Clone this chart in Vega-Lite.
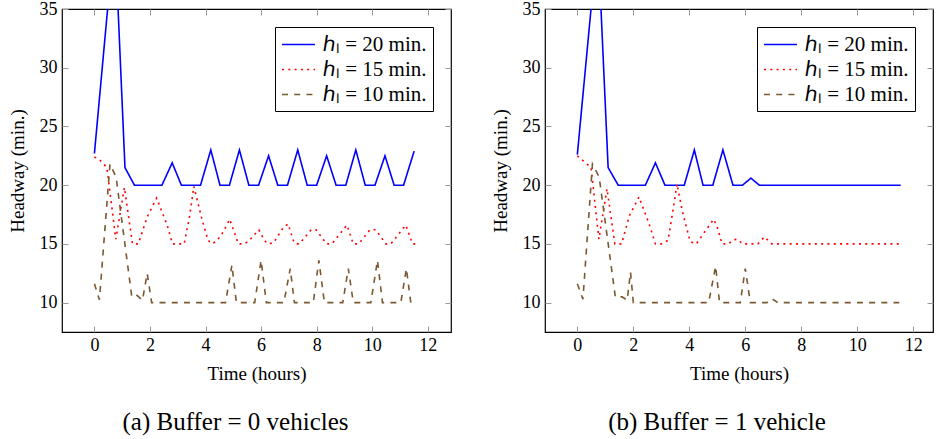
{
  "$schema": "https://vega.github.io/schema/vega-lite/v6.json",
  "padding": {"left": 7, "top": -1, "right": 0, "bottom": 0},
  "spacing": 37,
  "config": {
    "font": "Liberation Serif",
    "view": {"stroke": "black", "strokeWidth": 1.2},
    "axis": {
      "grid": false,
      "domain": false,
      "tickColor": "#999999",
      "tickWidth": 1,
      "tickSize": -6,
      "labelFont": "Liberation Serif",
      "labelFontSize": 18,
      "labelColor": "black",
      "titleFont": "Liberation Serif",
      "titleFontSize": 19,
      "titleFontWeight": "normal",
      "titleColor": "black"
    },
    "legend": {
      "labelFont": "Liberation Serif",
      "labelFontSize": 21,
      "labelColor": "black",
      "title": null,
      "orient": "top-right",
      "offset": 18,
      "symbolType": "M-1,0H2.14",
      "symbolSize": 441,
      "symbolStrokeWidth": 1.6,
      "labelOffset": 19,
      "rowPadding": 3,
      "padding": 6,
      "strokeColor": "black",
      "fillColor": "white",
      "cornerRadius": 0
    }
  },
  "datasets": {
    "buf0": [
      {"t": 0, "h": 22.7, "s": "ℎₗ = 20 min."},
      {"t": 0.73, "h": 41.6, "s": "ℎₗ = 20 min."},
      {"t": 1.1, "h": 21.5, "s": "ℎₗ = 20 min."},
      {"t": 1.44, "h": 20, "s": "ℎₗ = 20 min."},
      {"t": 2.43, "h": 20, "s": "ℎₗ = 20 min."},
      {"t": 2.8, "h": 21.9, "s": "ℎₗ = 20 min."},
      {"t": 3.13, "h": 20, "s": "ℎₗ = 20 min."},
      {"t": 3.82, "h": 20, "s": "ℎₗ = 20 min."},
      {"t": 4.19, "h": 23, "s": "ℎₗ = 20 min."},
      {"t": 4.52, "h": 20, "s": "ℎₗ = 20 min."},
      {"t": 4.86, "h": 20, "s": "ℎₗ = 20 min."},
      {"t": 5.22, "h": 23, "s": "ℎₗ = 20 min."},
      {"t": 5.56, "h": 20, "s": "ℎₗ = 20 min."},
      {"t": 5.91, "h": 20, "s": "ℎₗ = 20 min."},
      {"t": 6.27, "h": 22.5, "s": "ℎₗ = 20 min."},
      {"t": 6.6, "h": 20, "s": "ℎₗ = 20 min."},
      {"t": 6.95, "h": 20, "s": "ℎₗ = 20 min."},
      {"t": 7.32, "h": 23, "s": "ℎₗ = 20 min."},
      {"t": 7.66, "h": 20, "s": "ℎₗ = 20 min."},
      {"t": 8.0, "h": 20, "s": "ℎₗ = 20 min."},
      {"t": 8.36, "h": 22.5, "s": "ℎₗ = 20 min."},
      {"t": 8.7, "h": 20, "s": "ℎₗ = 20 min."},
      {"t": 9.05, "h": 20, "s": "ℎₗ = 20 min."},
      {"t": 9.41, "h": 23, "s": "ℎₗ = 20 min."},
      {"t": 9.75, "h": 20, "s": "ℎₗ = 20 min."},
      {"t": 10.1, "h": 20, "s": "ℎₗ = 20 min."},
      {"t": 10.46, "h": 22.5, "s": "ℎₗ = 20 min."},
      {"t": 10.79, "h": 20, "s": "ℎₗ = 20 min."},
      {"t": 11.13, "h": 20, "s": "ℎₗ = 20 min."},
      {"t": 11.51, "h": 22.9, "s": "ℎₗ = 20 min."},

      {"t": 0, "h": 22.4, "s": "ℎₗ = 15 min."},
      {"t": 0.17, "h": 22.2, "s": "ℎₗ = 15 min."},
      {"t": 0.45, "h": 21.5, "s": "ℎₗ = 15 min."},
      {"t": 0.77, "h": 15.4, "s": "ℎₗ = 15 min."},
      {"t": 1.08, "h": 19.8, "s": "ℎₗ = 15 min."},
      {"t": 1.37, "h": 15, "s": "ℎₗ = 15 min."},
      {"t": 1.58, "h": 15, "s": "ℎₗ = 15 min."},
      {"t": 1.9, "h": 17.3, "s": "ℎₗ = 15 min."},
      {"t": 2.24, "h": 18.9, "s": "ℎₗ = 15 min."},
      {"t": 2.62, "h": 16.6, "s": "ℎₗ = 15 min."},
      {"t": 2.81, "h": 15, "s": "ℎₗ = 15 min."},
      {"t": 3.23, "h": 15, "s": "ℎₗ = 15 min."},
      {"t": 3.43, "h": 17.4, "s": "ℎₗ = 15 min."},
      {"t": 3.58, "h": 19.9, "s": "ℎₗ = 15 min."},
      {"t": 3.85, "h": 17.3, "s": "ℎₗ = 15 min."},
      {"t": 4.09, "h": 15.3, "s": "ℎₗ = 15 min."},
      {"t": 4.24, "h": 15, "s": "ℎₗ = 15 min."},
      {"t": 4.42, "h": 15.3, "s": "ℎₗ = 15 min."},
      {"t": 4.63, "h": 16.0, "s": "ℎₗ = 15 min."},
      {"t": 4.87, "h": 17.1, "s": "ℎₗ = 15 min."},
      {"t": 5.05, "h": 15.9, "s": "ℎₗ = 15 min."},
      {"t": 5.18, "h": 15, "s": "ℎₗ = 15 min."},
      {"t": 5.4, "h": 15, "s": "ℎₗ = 15 min."},
      {"t": 5.58, "h": 15.3, "s": "ℎₗ = 15 min."},
      {"t": 5.92, "h": 16.2, "s": "ℎₗ = 15 min."},
      {"t": 6.12, "h": 15.3, "s": "ℎₗ = 15 min."},
      {"t": 6.24, "h": 15, "s": "ℎₗ = 15 min."},
      {"t": 6.45, "h": 15.1, "s": "ℎₗ = 15 min."},
      {"t": 6.8, "h": 16.4, "s": "ℎₗ = 15 min."},
      {"t": 6.97, "h": 16.7, "s": "ℎₗ = 15 min."},
      {"t": 7.16, "h": 15.3, "s": "ℎₗ = 15 min."},
      {"t": 7.25, "h": 15, "s": "ℎₗ = 15 min."},
      {"t": 7.38, "h": 15, "s": "ℎₗ = 15 min."},
      {"t": 7.8, "h": 16.2, "s": "ℎₗ = 15 min."},
      {"t": 7.98, "h": 16.2, "s": "ℎₗ = 15 min."},
      {"t": 8.36, "h": 15, "s": "ℎₗ = 15 min."},
      {"t": 8.55, "h": 15, "s": "ℎₗ = 15 min."},
      {"t": 9.09, "h": 16.6, "s": "ℎₗ = 15 min."},
      {"t": 9.32, "h": 15, "s": "ℎₗ = 15 min."},
      {"t": 9.51, "h": 15, "s": "ℎₗ = 15 min."},
      {"t": 9.92, "h": 16.2, "s": "ℎₗ = 15 min."},
      {"t": 10.13, "h": 16.2, "s": "ℎₗ = 15 min."},
      {"t": 10.49, "h": 15, "s": "ℎₗ = 15 min."},
      {"t": 10.67, "h": 15, "s": "ℎₗ = 15 min."},
      {"t": 11.21, "h": 16.6, "s": "ℎₗ = 15 min."},
      {"t": 11.45, "h": 15, "s": "ℎₗ = 15 min."},
      {"t": 11.65, "h": 15, "s": "ℎₗ = 15 min."},

      {"t": 0, "h": 11.6, "s": "ℎₗ = 10 min."},
      {"t": 0.18, "h": 10.25, "s": "ℎₗ = 10 min."},
      {"t": 0.56, "h": 21.8, "s": "ℎₗ = 10 min."},
      {"t": 0.78, "h": 20.7, "s": "ℎₗ = 10 min."},
      {"t": 1.34, "h": 10.6, "s": "ℎₗ = 10 min."},
      {"t": 1.45, "h": 10.8, "s": "ℎₗ = 10 min."},
      {"t": 1.73, "h": 10.2, "s": "ℎₗ = 10 min."},
      {"t": 1.9, "h": 12.5, "s": "ℎₗ = 10 min."},
      {"t": 2.06, "h": 10, "s": "ℎₗ = 10 min."},
      {"t": 4.72, "h": 10, "s": "ℎₗ = 10 min."},
      {"t": 4.95, "h": 13.2, "s": "ℎₗ = 10 min."},
      {"t": 5.11, "h": 10, "s": "ℎₗ = 10 min."},
      {"t": 5.77, "h": 10, "s": "ℎₗ = 10 min."},
      {"t": 6.0, "h": 13.6, "s": "ℎₗ = 10 min."},
      {"t": 6.19, "h": 10, "s": "ℎₗ = 10 min."},
      {"t": 6.82, "h": 10, "s": "ℎₗ = 10 min."},
      {"t": 7.05, "h": 12.9, "s": "ℎₗ = 10 min."},
      {"t": 7.2, "h": 10, "s": "ℎₗ = 10 min."},
      {"t": 7.88, "h": 10, "s": "ℎₗ = 10 min."},
      {"t": 8.08, "h": 13.6, "s": "ℎₗ = 10 min."},
      {"t": 8.28, "h": 10, "s": "ℎₗ = 10 min."},
      {"t": 8.94, "h": 10, "s": "ℎₗ = 10 min."},
      {"t": 9.14, "h": 12.9, "s": "ℎₗ = 10 min."},
      {"t": 9.32, "h": 10, "s": "ℎₗ = 10 min."},
      {"t": 9.95, "h": 10, "s": "ℎₗ = 10 min."},
      {"t": 10.19, "h": 13.6, "s": "ℎₗ = 10 min."},
      {"t": 10.37, "h": 10, "s": "ℎₗ = 10 min."},
      {"t": 11.03, "h": 10, "s": "ℎₗ = 10 min."},
      {"t": 11.23, "h": 12.9, "s": "ℎₗ = 10 min."},
      {"t": 11.39, "h": 10, "s": "ℎₗ = 10 min."},
      {"t": 11.5, "h": 10, "s": "ℎₗ = 10 min."}
    ],
    "buf1": [
      {"t": 0, "h": 22.6, "s": "ℎₗ = 20 min."},
      {"t": 0.73, "h": 41.1, "s": "ℎₗ = 20 min."},
      {"t": 1.1, "h": 21.5, "s": "ℎₗ = 20 min."},
      {"t": 1.46, "h": 20, "s": "ℎₗ = 20 min."},
      {"t": 2.43, "h": 20, "s": "ℎₗ = 20 min."},
      {"t": 2.79, "h": 21.9, "s": "ℎₗ = 20 min."},
      {"t": 3.13, "h": 20, "s": "ℎₗ = 20 min."},
      {"t": 3.82, "h": 20, "s": "ℎₗ = 20 min."},
      {"t": 4.18, "h": 23, "s": "ℎₗ = 20 min."},
      {"t": 4.49, "h": 20, "s": "ℎₗ = 20 min."},
      {"t": 4.84, "h": 20, "s": "ℎₗ = 20 min."},
      {"t": 5.2, "h": 23, "s": "ℎₗ = 20 min."},
      {"t": 5.56, "h": 20, "s": "ℎₗ = 20 min."},
      {"t": 5.9, "h": 20, "s": "ℎₗ = 20 min."},
      {"t": 6.2, "h": 20.6, "s": "ℎₗ = 20 min."},
      {"t": 6.5, "h": 20, "s": "ℎₗ = 20 min."},
      {"t": 11.55, "h": 20, "s": "ℎₗ = 20 min."},

      {"t": 0, "h": 22.5, "s": "ℎₗ = 15 min."},
      {"t": 0.15, "h": 22.2, "s": "ℎₗ = 15 min."},
      {"t": 0.49, "h": 21.5, "s": "ℎₗ = 15 min."},
      {"t": 0.77, "h": 15.4, "s": "ℎₗ = 15 min."},
      {"t": 1.06, "h": 19.7, "s": "ℎₗ = 15 min."},
      {"t": 1.34, "h": 15, "s": "ℎₗ = 15 min."},
      {"t": 1.58, "h": 15, "s": "ℎₗ = 15 min."},
      {"t": 1.86, "h": 17.4, "s": "ℎₗ = 15 min."},
      {"t": 2.2, "h": 19.0, "s": "ℎₗ = 15 min."},
      {"t": 2.55, "h": 16.8, "s": "ℎₗ = 15 min."},
      {"t": 2.79, "h": 15, "s": "ℎₗ = 15 min."},
      {"t": 3.0, "h": 15, "s": "ℎₗ = 15 min."},
      {"t": 3.24, "h": 15.3, "s": "ℎₗ = 15 min."},
      {"t": 3.44, "h": 18.2, "s": "ℎₗ = 15 min."},
      {"t": 3.56, "h": 20.1, "s": "ℎₗ = 15 min."},
      {"t": 3.75, "h": 17.8, "s": "ℎₗ = 15 min."},
      {"t": 4.03, "h": 15.2, "s": "ℎₗ = 15 min."},
      {"t": 4.25, "h": 15, "s": "ℎₗ = 15 min."},
      {"t": 4.57, "h": 16.1, "s": "ℎₗ = 15 min."},
      {"t": 4.87, "h": 17.1, "s": "ℎₗ = 15 min."},
      {"t": 4.99, "h": 16.5, "s": "ℎₗ = 15 min."},
      {"t": 5.17, "h": 15, "s": "ℎₗ = 15 min."},
      {"t": 5.4, "h": 15, "s": "ℎₗ = 15 min."},
      {"t": 5.57, "h": 15.35, "s": "ℎₗ = 15 min."},
      {"t": 5.72, "h": 15.4, "s": "ℎₗ = 15 min."},
      {"t": 5.9, "h": 15, "s": "ℎₗ = 15 min."},
      {"t": 6.45, "h": 15, "s": "ℎₗ = 15 min."},
      {"t": 6.68, "h": 15.6, "s": "ℎₗ = 15 min."},
      {"t": 6.95, "h": 15, "s": "ℎₗ = 15 min."},
      {"t": 11.5, "h": 15, "s": "ℎₗ = 15 min."},

      {"t": 0, "h": 11.6, "s": "ℎₗ = 10 min."},
      {"t": 0.2, "h": 10.3, "s": "ℎₗ = 10 min."},
      {"t": 0.54, "h": 21.8, "s": "ℎₗ = 10 min."},
      {"t": 0.78, "h": 20.7, "s": "ℎₗ = 10 min."},
      {"t": 1.36, "h": 10.45, "s": "ℎₗ = 10 min."},
      {"t": 1.6, "h": 10.5, "s": "ℎₗ = 10 min."},
      {"t": 1.78, "h": 10.2, "s": "ℎₗ = 10 min."},
      {"t": 1.9, "h": 12.6, "s": "ℎₗ = 10 min."},
      {"t": 2.0, "h": 10, "s": "ℎₗ = 10 min."},
      {"t": 4.69, "h": 10, "s": "ℎₗ = 10 min."},
      {"t": 4.94, "h": 13.1, "s": "ℎₗ = 10 min."},
      {"t": 5.08, "h": 10, "s": "ℎₗ = 10 min."},
      {"t": 5.82, "h": 10, "s": "ℎₗ = 10 min."},
      {"t": 6.0, "h": 12.9, "s": "ℎₗ = 10 min."},
      {"t": 6.18, "h": 10, "s": "ℎₗ = 10 min."},
      {"t": 6.77, "h": 10, "s": "ℎₗ = 10 min."},
      {"t": 6.95, "h": 10.35, "s": "ℎₗ = 10 min."},
      {"t": 7.16, "h": 10, "s": "ℎₗ = 10 min."},
      {"t": 11.5, "h": 10, "s": "ℎₗ = 10 min."}
    ]
  },
  "hconcat": [
    {
      "width": 389,
      "height": 323,
      "data": {"name": "buf0"},
      "title": {"text": "(a) Buffer = 0 vehicles", "orient": "bottom", "anchor": "middle", "frame": "group", "dx": -21, "offset": 27, "fontSize": 25, "fontWeight": "normal", "font": "Liberation Serif", "color": "black"},
      "layer": [
        {
          "mark": {"type": "line", "clip": true, "strokeWidth": 1.6, "strokeCap": "butt"},
          "encoding": {
            "x": {"field": "t", "type": "quantitative", "scale": {"domain": [-1.167, 12.837], "nice": false, "zero": false},
                  "axis": {"title": "Time (hours)", "values": [0, 2, 4, 6, 8, 10, 12], "labelPadding": 10, "titlePadding": 10}},
            "y": {"field": "h", "type": "quantitative", "scale": {"domain": [7.5, 35], "nice": false, "zero": false},
                  "axis": {"title": "Headway (min.)", "values": [10, 15, 20, 25, 30, 35], "labelPadding": 11, "titlePadding": 12}},
            "color": {"field": "s", "type": "nominal",
                      "scale": {"domain": ["ℎₗ = 20 min.", "ℎₗ = 15 min.", "ℎₗ = 10 min."], "range": ["#0000ff", "#ff0000", "#7a5830"]}},
            "strokeDash": {"field": "s", "type": "nominal",
                      "scale": {"domain": ["ℎₗ = 20 min.", "ℎₗ = 15 min.", "ℎₗ = 10 min."], "range": [[1, 0], [2, 4.3], [6, 6.2]]}}
          }
        },
        {
          "mark": {"type": "line", "opacity": 0, "clip": true},
          "encoding": {
            "x": {"field": "t", "type": "quantitative", "axis": {"orient": "top", "labels": false, "title": null, "values": [0, 2, 4, 6, 8, 10, 12]}},
            "y": {"field": "h", "type": "quantitative", "axis": {"orient": "right", "labels": false, "title": null, "values": [10, 15, 20, 25, 30, 35]}},
            "detail": {"field": "s"}
          }
        }
      ],
      "resolve": {"axis": {"x": "independent", "y": "independent"}}
    },
    {
      "width": 388,
      "height": 323,
      "data": {"name": "buf1"},
      "title": {"text": "(b) Buffer = 1 vehicle", "orient": "bottom", "anchor": "middle", "frame": "group", "dx": -22, "offset": 27, "fontSize": 25, "fontWeight": "normal", "font": "Liberation Serif", "color": "black"},
      "layer": [
        {
          "mark": {"type": "line", "clip": true, "strokeWidth": 1.6, "strokeCap": "butt"},
          "encoding": {
            "x": {"field": "t", "type": "quantitative", "scale": {"domain": [-1.155, 12.705], "nice": false, "zero": false},
                  "axis": {"title": "Time (hours)", "values": [0, 2, 4, 6, 8, 10, 12], "labelPadding": 10, "titlePadding": 10}},
            "y": {"field": "h", "type": "quantitative", "scale": {"domain": [7.5, 35], "nice": false, "zero": false},
                  "axis": {"title": "Headway (min.)", "values": [10, 15, 20, 25, 30, 35], "labelPadding": 11, "titlePadding": 12}},
            "color": {"field": "s", "type": "nominal",
                      "scale": {"domain": ["ℎₗ = 20 min.", "ℎₗ = 15 min.", "ℎₗ = 10 min."], "range": ["#0000ff", "#ff0000", "#7a5830"]}},
            "strokeDash": {"field": "s", "type": "nominal",
                      "scale": {"domain": ["ℎₗ = 20 min.", "ℎₗ = 15 min.", "ℎₗ = 10 min."], "range": [[1, 0], [2, 4.3], [6, 6.2]]}}
          }
        },
        {
          "mark": {"type": "line", "opacity": 0, "clip": true},
          "encoding": {
            "x": {"field": "t", "type": "quantitative", "axis": {"orient": "top", "labels": false, "title": null, "values": [0, 2, 4, 6, 8, 10, 12]}},
            "y": {"field": "h", "type": "quantitative", "axis": {"orient": "right", "labels": false, "title": null, "values": [10, 15, 20, 25, 30, 35]}},
            "detail": {"field": "s"}
          }
        }
      ],
      "resolve": {"axis": {"x": "independent", "y": "independent"}}
    }
  ],
  "resolve": {"scale": {"color": "independent", "strokeDash": "independent"}, "legend": {"color": "independent", "strokeDash": "independent"}}
}
